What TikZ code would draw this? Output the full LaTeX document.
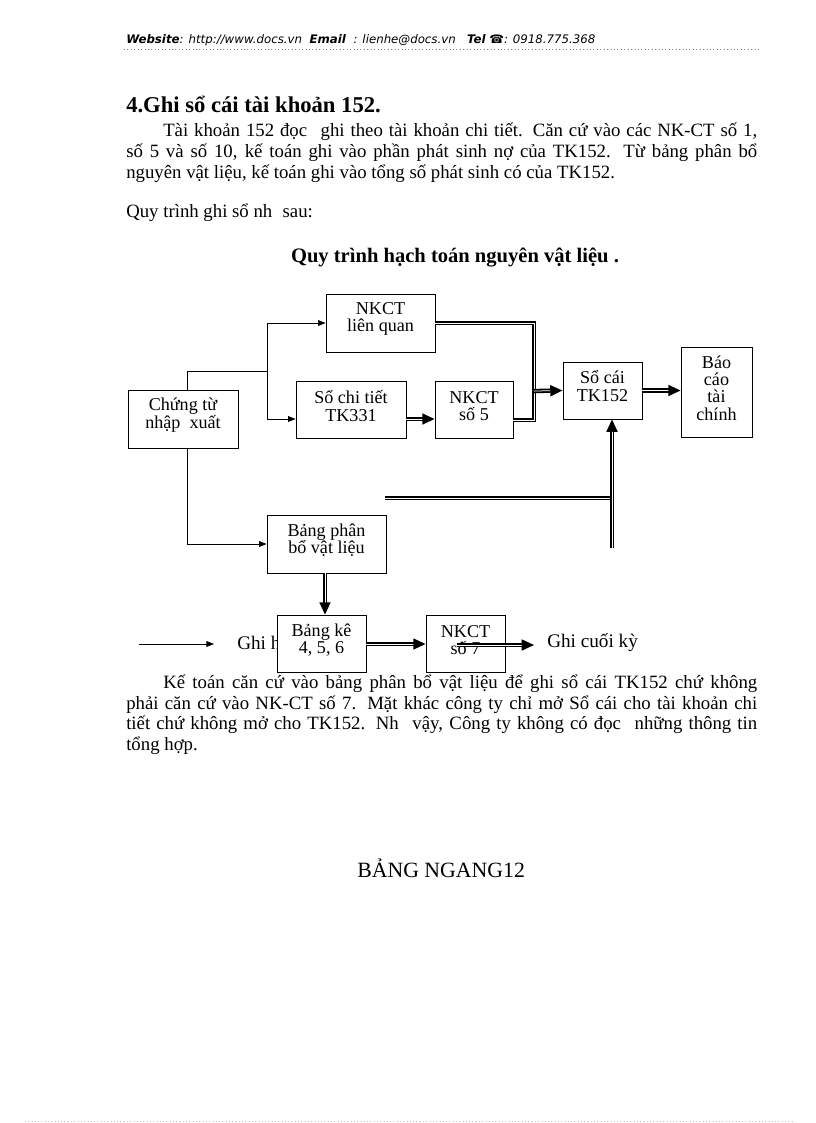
\documentclass[tikz,border=0pt]{standalone}
\usepackage{fontspec}
\setmainfont{Liberation Serif}
\newfontfamily\hdrfont{DejaVu Sans}
\usetikzlibrary{arrows.meta,calc}
\newlength\ux \setlength\ux{0.7295pt}
\begin{document}
\begin{tikzpicture}[x=0.7295pt,y=-0.7295pt,
  box/.style={draw, line width=0.6pt, inner sep=0pt, fill=white},
  btxt/.style={align=center, inner sep=0pt, font=\fontsize{13.2}{12.6}\selectfont},
  body/.style={anchor=base west, inner sep=0pt, font=\fontsize{13.7}{15}\selectfont},
  thinln/.style={line width=0.6pt},
  sarr/.style={line width=0.6pt, -{Triangle[length=5.5pt,width=4.2pt]}},
  dline/.style={double, double distance=0.55pt, line width=1.3pt},
  darr/.style={dline, -{Triangle[length=9pt,width=8pt]}}]
\useasboundingbox (0,0) rectangle (816,1123);
\fill[white] (0,0) rectangle (816,1123);

% header
\node[anchor=base west, inner sep=0pt, font=\hdrfont\fontsize{8.6}{10}\selectfont\itshape] (hdr) at (126,43)
  {\textbf{Website}: http://www.docs.vn\ \ \textbf{Email}\ \ : lienhe@docs.vn\ \ \ \textbf{Tel}\ ☎: 0918.775.368};
\draw[gray, dotted, line width=0.5pt] (124,49) -- (760,49);

% heading and text
\node[body, font=\bfseries\fontsize{16.5}{18}\selectfont] (h1) at (126,112) {4.Ghi sổ cái tài khoản 152.};
\node[body] (p1) at (163,136) {\makebox[594\ux][s]{Tài khoản 152 đọc\hspace{0.4em} ghi theo tài khoản chi tiết. Căn cứ vào các NK-CT số 1,}};
\node[body] (p2) at (126,157) {\makebox[631\ux][s]{số 5 và số 10, kế toán ghi vào phần phát sinh nợ của TK152. Từ bảng phân bổ}};
\node[body] (p3) at (126,178) {nguyên vật liệu, kế toán ghi vào tổng số phát sinh có của TK152.};
\node[body] (p4) at (126,217) {Quy trình ghi sổ nh\hspace{0.3em} sau:};
\node[anchor=base, inner sep=0pt, font=\bfseries\fontsize{15}{17}\selectfont] (dt) at (455,262) {Quy trình hạch toán nguyên vật liệu .};

% boxes
\node[box, minimum width=109\ux, minimum height=58\ux] (lq) at (380.5,323) {};
\node[box, minimum width=110\ux, minimum height=57\ux] (ct331) at (351,409.5) {};
\node[box, minimum width=78\ux, minimum height=57\ux] (nk5) at (474,409.5) {};
\node[box, minimum width=79\ux, minimum height=57\ux] (sc) at (602.5,390.5) {};
\node[box, minimum width=71\ux, minimum height=90\ux] (bc) at (716.5,392) {};
\node[box, minimum width=110\ux, minimum height=58\ux] (ctu) at (183,419) {};
\node[box, minimum width=119\ux, minimum height=58\ux] (pb) at (326.5,544) {};

\node[btxt] (lqt) at (380.5,319) {NKCT\\liên quan};
\node[btxt] (ct331t) at (351,406) {Sổ chi tiết\\TK331};
\node[btxt] (nk5t) at (474,406) {NKCT\\số 5};
\node[btxt] (sct) at (602.5,386) {Sổ cái\\TK152};
\node[btxt] (bct) at (716.5,388) {Báo\\cáo\\tài\\chính};
\node[btxt] (ctut) at (183,415) {Chứng từ\\nhập\ \ xuất};
\node[btxt] (pbt) at (326.5,540) {Bảng phân\\bổ vật liệu};

% single connectors
\coordinate (jt) at (267,323);
\coordinate (jm) at (267,371);
\coordinate (jb) at (267,419);
\draw[thinln] ($(ctu.north west)+(60,0)$) |- (jm);
\draw[thinln] (jt) -- (jb);
\draw[sarr] (jt) -- (lq.west);
\draw[sarr] (jb) -- (jb -| ct331.west);
\draw[sarr] ($(ctu.south west)+(60,0)$) |- (pb.west);

% double connectors
\coordinate (jr) at (534,420);
\draw[darr] (ct331.east |- jb) -- (nk5.west |- jb);
\draw[dline] (lq.east) -| (jr) -- (jr -| nk5.east);
\draw[darr] (534,391) -- (sc.west);
\draw[darr] (sc.east) -- (sc.east -| bc.west);
\coordinate (hl) at (385,498);
\coordinate (vb) at (612,548);
\draw[dline] (hl) -- (hl -| vb);
\draw[darr] (vb) -- (vb |- sc.south);

% lower part
\coordinate (l1) at (139,644);
\coordinate (l2) at (214,644);
\draw[sarr] (l1) -- (l2);
\node[anchor=west, inner sep=0pt, font=\fontsize{14}{15}\selectfont] (gh) at (237,643) {Ghi h};
\node[box, minimum width=89\ux, minimum height=57\ux] (bk) at (321.5,643.5) {};
\node[box, minimum width=79\ux, minimum height=57\ux] (nk7) at (465.5,643.5) {};
\node[btxt] (bkt) at (321.5,640) {Bảng kê\\4, 5, 6};
\node[btxt] (nk7t) at (465.5,640) {NKCT\\số 7};
\draw[darr] (pb.south -| 325,0) -- (bk.north -| 325,0);
\draw[darr] (bk.east |- l1) -- (nk7.west |- l1);
\coordinate (l3) at (457,645);
\coordinate (l4) at (534,645);
\draw[darr] (l3) -- (l4);
\node[anchor=west, inner sep=0pt, font=\fontsize{14}{15}\selectfont] (gc) at (547,643) {Ghi cuối kỳ};

% bottom paragraph
\node[body] (q1) at (163,688) {\makebox[594\ux][s]{Kế toán căn cứ vào bảng phân bổ vật liệu để ghi sổ cái TK152 chứ không}};
\node[body] (q2) at (126,709) {\makebox[631\ux][s]{phải căn cứ vào NK-CT số 7. Mặt khác công ty chỉ mở Sổ cái cho tài khoản chi}};
\node[body] (q3) at (126,729) {\makebox[631\ux][s]{tiết chứ không mở cho TK152. Nh\hspace{0.4em} vậy, Công ty không có đọc\hspace{0.4em} những thông tin}};
\node[body] (q4) at (126,750) {tổng hợp.};

\node[anchor=base west, inner sep=0pt, font=\fontsize{15.9}{18}\selectfont] (bn) at (357,877) {BẢNG NGANG12};

\draw[gray!50, dotted, line width=0.4pt] (25,1121) -- (792,1121);
\end{tikzpicture}
\end{document}
